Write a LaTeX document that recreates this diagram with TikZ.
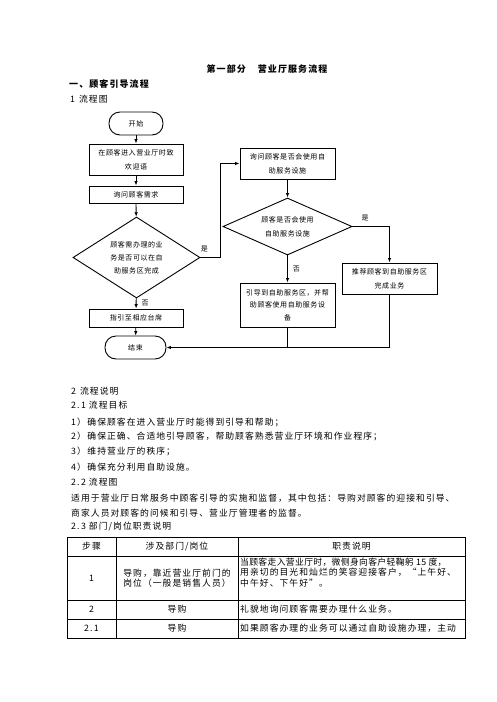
\documentclass[tikz,border=0pt]{standalone}
\usepackage{fontspec}
\newfontfamily\cjk[LetterSpace=12]{Noto Sans CJK SC}
\newfontfamily\cjkt[LetterSpace=4]{Noto Sans CJK SC}
\newfontfamily\cjkf[LetterSpace=8]{Noto Sans CJK SC}
\usetikzlibrary{shapes.geometric,arrows.meta}
\tikzset{
  fc/.style={font=\cjkf\fontsize{7}{12.5}\selectfont, align=center},
  boxn/.style={draw, line width=0.9pt, inner sep=0pt, fc},
  term/.style={boxn, rounded corners=11pt},
  dia/.style={draw, line width=0.9pt, diamond, inner sep=0pt, fc},
  arr/.style={line width=0.8pt, -{Latex[length=4.5pt,width=3.5pt]}},
  ln/.style={line width=0.8pt},
  lab/.style={font=\cjkf\fontsize{7}{8}\selectfont, inner sep=0pt},
  txt/.style={font=\cjk\fontsize{8.8}{10}\selectfont, inner sep=0pt, anchor=west},
  htxt/.style={font=\cjk\bfseries\fontsize{9}{10}\selectfont, inner sep=0pt},
  cell/.style={font=\cjk\fontsize{8.8}{10.5}\selectfont, inner sep=0pt, align=center},
  cellL/.style={font=\cjk\fontsize{8.8}{10.5}\selectfont, inner sep=0pt, align=left, anchor=west},
  tab/.style={line width=0.9pt},
}
\begin{document}
\begin{tikzpicture}[x=1pt,y=-1pt]
\useasboundingbox (0,0) rectangle (496,702);
% headings
\node[htxt] (t0) at (267,69) {第一部分\hspace{12pt}营业厅服务流程};
\node[htxt, anchor=west] (t1) at (69,84) {一、顾客引导流程};
\node[txt] (t2) at (70,99) {1\hspace{4pt}流程图};
% flowchart
\node[term, minimum width=54pt, minimum height=23pt] (start) at (136,123.5) {开始};
\node[boxn, minimum width=94pt, minimum height=31pt] (b2) at (136,159.5) {在顾客进入营业厅时致\\[1.5pt]欢迎语};
\node[boxn, minimum width=94pt, minimum height=17pt] (b3) at (136,194.5) {询问顾客需求};
\node[dia, minimum width=127pt, minimum height=81pt, aspect=1.57] (d1) at (136.5,257.5) {顾客需办理的业\\[0.5pt]务是否可以在自\\[0.5pt]助服务区完成};
\node[boxn, minimum width=94pt, minimum height=18pt] (b5) at (136,318) {指引至相应台席};
\node[term, minimum width=61pt, minimum height=23pt] (end) at (135.5,347.5) {结束};
\node[boxn, minimum width=95pt, minimum height=31pt] (b4) at (287.5,163.5) {询问顾客是否会使用自\\[1.5pt]助服务设施};
\node[dia, minimum width=129pt, minimum height=57pt, aspect=2.26] (d2) at (287.5,226.5) {顾客是否会使用\\[1.5pt]自助服务设施};
\node[boxn, minimum width=95pt, minimum height=44pt] (b6) at (287.5,305) {引导到自助服务区，并帮\\助顾客使用自助服务设\\备};
\node[boxn, minimum width=95pt, minimum height=31pt] (b7) at (389.5,278.5) {推荐顾客到自助服务区\\[1.5pt]完成业务};
\coordinate (j) at (389.5,347.5);
% connectors
\draw[arr] (start) -- (b2);
\draw[arr] (b2) -- (b3);
\draw[arr] (b3) -- (d1);
\draw[arr] (d1) -- node[lab, right=5pt]{否} (b5);
\draw[arr] (b5) -- (end);
\draw[arr] (d1.east) -- node[lab, above=5pt, pos=0.2]{是} ++(20,0) |- (b4.west);
\draw[arr] (b4) -- (d2);
\draw[arr] (d2) -- node[lab, right=5pt]{否} (b6);
\draw[arr] (d2.east) -| node[lab, above=5pt, pos=0.17]{是} (b7.north);
\draw[arr] (b7.south) -- (j) -- (end.east);
\draw[ln] (b6.south) -- (b6.south |- j);
% text
\node[txt] (t3) at (71,391) {2\hspace{4pt}流程说明};
\node[txt] (t4) at (71,405) {2.\,1 流程目标};
\node[txt] (t5) at (71,422) {1）\,确保顾客在进入营业厅时能得到引导和帮助；};
\node[txt] (t6) at (71,436) {2）\,确保正确、合适地引导顾客，帮助顾客熟悉营业厅环境和作业程序；};
\node[txt] (t7) at (71,451) {3）\,维持营业厅的秩序；};
\node[txt] (t8) at (71,467) {4）\,确保充分利用自助设施。};
\node[txt] (t9) at (71,482) {2.\,2 流程图};
\node[txt] (t10) at (71,498) {适用于营业厅日常服务中顾客引导的实施和监督，其中包括：导购对顾客的迎接和引导、};
\node[txt] (t11) at (71,513) {商家人员对顾客的问候和引导、营业厅管理者的监督。};
\node[txt] (t12) at (71,527) {2.\,3 部门/岗位职责说明};
% table
\draw[tab] (67,537) rectangle (465,638);
\draw[tab] (67,556) -- (465,556);
\draw[tab] (67,600) -- (465,600);
\draw[tab] (67,619) -- (465,619);
\draw[tab] (116,537) -- (116,638);
\draw[tab] (238,537) -- (238,638);
\node[cell] (h1) at (91.5,546.5) {步骤};
\node[cell] (h2) at (177,546.5) {涉及部门/岗位};
\node[cell] (h3) at (351.5,546.5) {职责说明};
\node[cell] (r1a) at (91.5,578) {1};
\node[cell] (r1b) at (177,578) {导购，靠近营业厅前门的\\岗位（一般是销售人员）};
\node[cellL] (r1c) at (240,572.5) {{\cjkt 当顾客走入营业厅时，微侧身向客户轻鞠躬 15 度，}\\用亲切的目光和灿烂的笑容迎接客户，“上午好、\\中午好、下午好”。};
\node[cell] (r2a) at (91.5,609.5) {2};
\node[cell] (r2b) at (177,609.5) {导购};
\node[cellL] (r2c) at (240,609.5) {礼貌地询问顾客需要办理什么业务。};
\node[cell] (r3a) at (91.5,628.5) {2.\,1};
\node[cell] (r3b) at (177,628.5) {导购};
\node[cellL] (r3c) at (240,628.5) {如果顾客办理的业务可以通过自助设施办理，主动};
\end{tikzpicture}
\end{document}
